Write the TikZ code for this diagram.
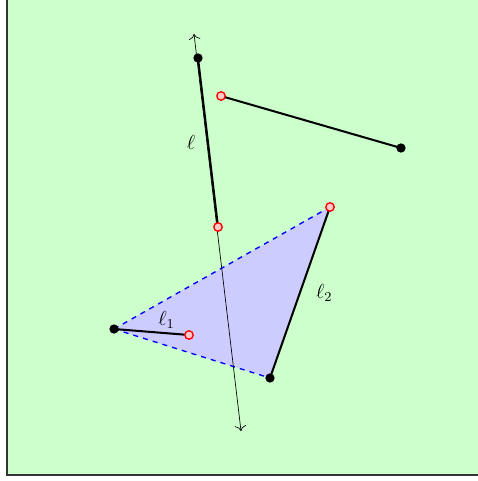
\documentclass[tikz,border=0pt]{standalone}
\usetikzlibrary{positioning,arrows.meta}
\tikzset{>={To[scale=1.3]}}
\tikzset{blackdot/.style={circle,fill=black,inner sep=0pt,minimum size=5.5pt}}
\tikzset{reddot/.style={circle,draw=red,fill=red!20,line width=0.8pt,inner sep=0pt,minimum size=5pt}}
\tikzset{seg/.style={very thick}}
\tikzset{hull/.style={blue,dashed,thick}}
\tikzset{lab/.style={font=\large}}
\begin{document}
\begin{tikzpicture}[x=0.0208cm, y=-0.0208cm]
            \useasboundingbox (0,0) rectangle (478,481);
            \draw[fill=green!20, draw=black!80, line width=0.8pt] (7,-10) rectangle (490,475);
            % points
            \coordinate (p1) at (198,58);
            \coordinate (p2) at (401,148);
            \coordinate (p3) at (114,329);
            \coordinate (p4) at (270,378);
            \coordinate (q1) at (221,96);
            \coordinate (q2) at (218,227);
            \coordinate (q3) at (330,207);
            \coordinate (q4) at (189,335);
            \coordinate (ltop) at (194,34);
            \coordinate (lbot) at (241,431);
            % triangle
            \fill[blue!20] (p3) -- (q3) -- (p4) -- cycle;
            \draw[hull] (p3) -- (q3);
            \draw[hull] (p3) -- (p4);
            \draw[<->] (ltop) -- (lbot);
            \draw[seg] (q3) -- (p4);
            \draw[seg] (p1) -- (q2);
            \draw[seg] (q1) -- (p2);
            \draw[seg] (p3) -- (q4);
            \foreach \p in {p1,p2,p3,p4}
                \node[blackdot] (\p dot) at (\p) {};
            \foreach \q in {q1,q2,q3,q4}
                \node[reddot] (\q dot) at (\q) {};
            \path (p1) -- (q2) node[lab, midway, left=4pt] (ell) {$\ell$};
            \path (p3) -- (q4) node[lab, pos=.7, above=-1pt] (ell1) {$\ell_1$};
            \path (q3) -- (p4) node[lab, midway, right=6pt] (ell2) {$\ell_2$};
        \end{tikzpicture}
\end{document}
